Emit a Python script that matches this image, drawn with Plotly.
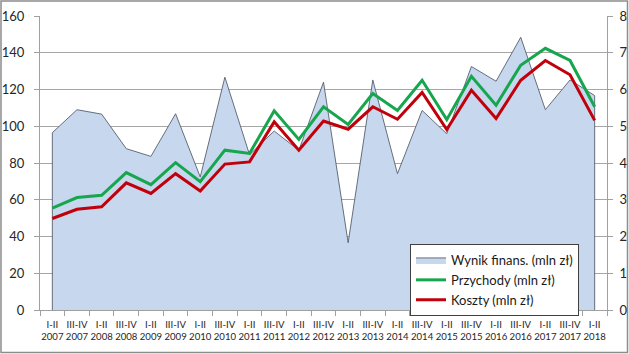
import plotly.graph_objects as go

periods = ["I-II", "III-IV"]
years = list(range(2007, 2019))
categories = []
for y in years:
    for p in periods:
        if y == 2018 and p == "III-IV":
            continue
        categories.append(f"{p}<br>{y}")

wynik = [96.5, 109, 106.6, 87.8, 83.6, 106.8, 72.4, 126.7, 84.5, 97.4, 86.9, 124,
         36.6, 125.2, 74.2, 108.6, 95.9, 132.5, 124.5, 148.4, 109, 125.2, 116.7]
przychody = [2.77, 3.06, 3.12, 3.74, 3.41, 4.01, 3.49, 4.35, 4.26, 5.42, 4.64, 5.53,
             5.05, 5.89, 5.43, 6.25, 5.18, 6.36, 5.57, 6.66, 7.12, 6.79, 5.53]
koszty = [2.49, 2.74, 2.81, 3.46, 3.17, 3.71, 3.24, 3.97, 4.03, 5.12, 4.35, 5.14,
          4.92, 5.53, 5.19, 5.92, 4.91, 5.98, 5.21, 6.25, 6.79, 6.40, 5.16]

FONT = "Lato"
W, H = 629, 354
L, R, T, B = 40, 22, 16, 44
PW, PH = W - L - R, H - T - B

fig = go.Figure()
# closed area polygon (edges down to zero at both ends, like Excel's outlined area)
fig.add_trace(go.Scatter(
    x=[categories[0]] + categories + [categories[-1]],
    y=[0] + wynik + [0],
    fill="toself", fillcolor="#C6D7EE",
    line=dict(color="#56606E", width=0.9),
    mode="lines", name="Wynik finans. (mln zł)", yaxis="y"))
fig.add_trace(go.Scatter(
    x=categories, y=przychody, mode="lines", name="Przychody (mln zł)",
    line=dict(color="#16A64E", width=3), yaxis="y2"))
fig.add_trace(go.Scatter(
    x=categories, y=koszty, mode="lines", name="Koszty (mln zł)",
    line=dict(color="#C0000B", width=3), yaxis="y2"))

axis_grey = "#A0A0A0"
fig.update_layout(
    width=W, height=H,
    margin=dict(l=L, r=R, t=T, b=B, autoexpand=False),
    paper_bgcolor="white", plot_bgcolor="white",
    font=dict(family=FONT, color="#262626"),
    showlegend=True,
    legend=dict(x=(410 - L) / PW, y=(T + PH - 244) / PH, xanchor="left", yanchor="top",
                bgcolor="white", bordercolor="#404040", borderwidth=1,
                font=dict(family=FONT, size=13, color="#1a1a1a"),
                tracegroupgap=0, itemwidth=30),
    xaxis=dict(type="category", range=[-0.5, len(categories) - 0.5],
               tickson="boundaries", ticks="outside", ticklen=5, tickcolor=axis_grey,
               showline=True, linecolor=axis_grey, linewidth=1, showgrid=False,
               tickangle=0, ticklabelstandoff=5, automargin=False,
               tickfont=dict(family=FONT, size=9.6, color="#262626")),
    yaxis=dict(range=[0, 160], dtick=20, ticks="outside", ticklen=5, tickcolor=axis_grey,
               showline=True, linecolor=axis_grey, linewidth=1,
               showgrid=True, gridcolor="#A6A6A6", gridwidth=1, zeroline=False,
               ticklabelstandoff=7, automargin=False,
               tickfont=dict(family=FONT, size=13, color="#262626")),
    yaxis2=dict(range=[0, 8], dtick=1, overlaying="y", side="right",
                ticks="outside", ticklen=5, tickcolor=axis_grey,
                showline=True, linecolor=axis_grey, linewidth=1,
                showgrid=False, zeroline=False, ticklabelstandoff=4, automargin=False,
                tickfont=dict(family=FONT, size=13, color="#262626")),
    shapes=[dict(type="rect", xref="paper", yref="paper",
                 x0=(1 - L) / PW, x1=(W - 1.5 - L) / PW,
                 y0=(T + PH - (H - 1.5)) / PH, y1=(T + PH - 1) / PH,
                 line=dict(color="#8C8C8C", width=1.5), layer="below")],
)

fig.write_html("out.html")
